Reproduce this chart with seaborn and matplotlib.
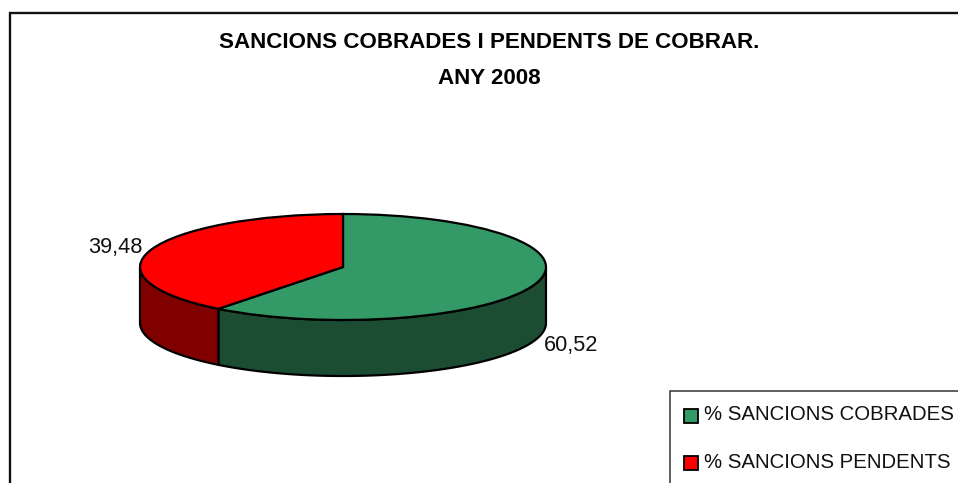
import numpy as np
import matplotlib
matplotlib.use('Agg')
import matplotlib.pyplot as plt
from matplotlib.patches import Rectangle
import seaborn as sns

# input data
labels = ['% SANCIONS COBRADES', '% SANCIONS PENDENTS']
values = [60.52, 39.48]
value_labels = ['60,52', '39,48']
top_colors = ['#339966', '#ff0000']
side_colors = ['#1c4d33', '#800000']
title_lines = ['SANCIONS COBRADES I PENDENTS DE COBRAR.', 'ANY 2008']

W, H = 958, 483
# ellipse of the pie in pixels
cx, cy, rx, ry, depth = 343, 267, 203, 53, 56

sns.set_theme(style='white')
plt.rcParams['font.family'] = ['Liberation Sans', 'DejaVu Sans']

fig = plt.figure(figsize=(W / 100, H / 100), dpi=100, facecolor='white')

# background layer in pixel coordinates: frame, legend box, texts
bg = fig.add_axes([0, 0, 1, 1])
bg.set_xlim(0, W)
bg.set_ylim(H, 0)
bg.axis('off')
bg.plot([10.5, 10.5, W], [H, 12.5, 12.5], color='#111111', lw=1.7, solid_joinstyle='miter')
bg.plot([670.5, 670.5, W], [H, 391, 391], color='#333333', lw=1.1, solid_joinstyle='miter')

bg.text(489, 43, title_lines[0], ha='center', va='center', fontsize=16.1, fontweight='bold', color='black')
bg.text(489, 78, title_lines[1], ha='center', va='center', fontsize=16.1, fontweight='bold', color='black')
bg.text(571.5, 345, value_labels[0], ha='center', va='center', fontsize=15.7, color='#111111')
bg.text(115.5, 247, value_labels[1], ha='center', va='center', fontsize=15.7, color='#111111')

for lab, col, y in zip(labels, top_colors, [415, 462]):
    bg.add_patch(Rectangle((684, y - 6), 14, 14, facecolor=col, edgecolor='black', lw=1.3))
    bg.text(704, y, lab, ha='left', va='center', fontsize=14.7, color='#111111')

# pie axes: unit circle stretched to the ellipse, extra room below for the wall
ax = fig.add_axes([(cx - rx) / W, 1 - (cy + ry + depth) / H, 2 * rx / W, (2 * ry + depth) / H])
d = depth / ry

# walls, only the front half (below the ellipse centre line) is visible
start = 90.0
for val, col in zip(values, side_colors):
    end = start - val * 3.6
    th = np.radians(np.linspace(start, end, 200))
    th = th[np.sin(th) <= 0]
    if len(th):
        x = np.cos(th)
        y = np.sin(th)
        xs = np.r_[x, x[::-1]]
        ys = np.r_[y, (y - d)[::-1]]
        ax.fill(xs, ys, facecolor=col, edgecolor='black', lw=1.6, zorder=1, clip_on=False)
    start = end

ax.pie(values, colors=top_colors, startangle=90, counterclock=False, radius=1,
       wedgeprops={'edgecolor': 'black', 'linewidth': 1.6, 'zorder': 2})
ax.set_aspect('auto')
ax.set_xlim(-1, 1)
ax.set_ylim(-1 - d, 1)
ax.axis('off')

fig.savefig('out.png', dpi=100)
